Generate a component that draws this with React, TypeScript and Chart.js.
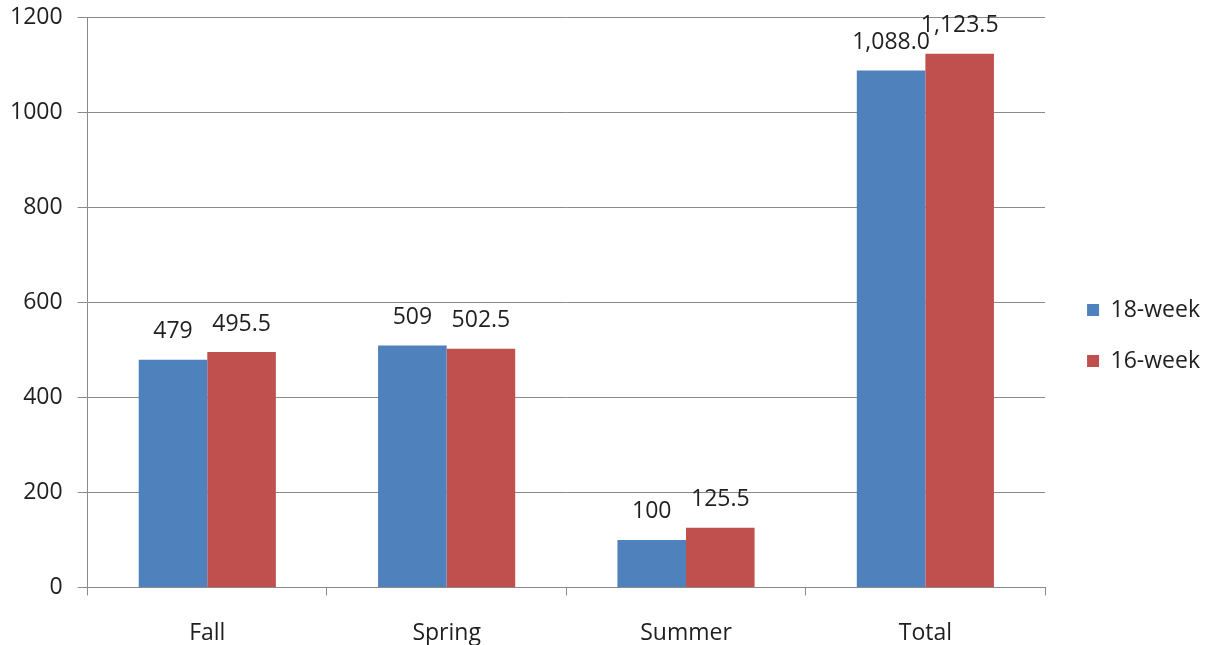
import React, { useEffect, useRef } from "react";
import { Chart, registerables } from "chart.js";

Chart.register(...registerables);

const categories = ["Fall", "Spring", "Summer", "Total"];
const week18 = [479, 509, 100, 1088.0];
const week16 = [495.5, 502.5, 125.5, 1123.5];
// Decimal places shown in the value labels per category (null = as-is)
const labelDecimals: (number | null)[] = [null, null, null, 1];
const yTicks = [0, 200, 400, 600, 800, 1000, 1200];

const FONT = "'Open Sans', 'Noto Sans', sans-serif";
const TEXT = "#1f1f1f";
const GRID = "#8a8a8a";
const FONT_SIZE = 23;

function formatValue(v: number, idx: number): string {
  const d = labelDecimals[idx];
  if (d == null) return String(v);
  return v.toLocaleString("en-US", { minimumFractionDigits: d, maximumFractionDigits: d });
}

const valueLabels = {
  id: "valueLabels",
  afterDatasetsDraw(chart: any) {
    const ctx = chart.ctx;
    ctx.save();
    ctx.font = `${FONT_SIZE}px ${FONT}`;
    ctx.fillStyle = TEXT;
    ctx.textAlign = "center";
    ctx.textBaseline = "middle";
    chart.data.datasets.forEach((ds: any, di: number) => {
      const meta = chart.getDatasetMeta(di);
      meta.data.forEach((el: any, i: number) => {
        ctx.fillText(formatValue(ds.data[i], i), el.x, el.y - 28);
      });
    });
    ctx.restore();
  },
};

export default function App() {
  const ref = useRef<HTMLCanvasElement>(null);
  useEffect(() => {
    document.body.style.margin = "0";
    const chart = new Chart(ref.current!, {
      type: "bar",
      data: {
        labels: categories,
        datasets: [
          { label: "18-week", data: week18, backgroundColor: "#4F81BD" },
          { label: "16-week", data: week16, backgroundColor: "#C0504D" },
        ],
      },
      options: {
        animation: false,
        responsive: false,
        layout: { padding: { top: 0, left: -5, right: 4, bottom: -26 } },
        datasets: {
          bar: { categoryPercentage: 0.573, barPercentage: 1.0 },
        },
        scales: {
          x: {
            grid: {
              display: true,
              drawOnChartArea: false,
              drawTicks: true,
              tickLength: 8,
              color: GRID,
              offset: true,
            },
            border: { color: GRID },
            ticks: { color: TEXT, font: { family: FONT, size: FONT_SIZE }, padding: 24 },
          },
          y: {
            min: 0,
            max: 1200,
            afterBuildTicks(axis: any) {
              axis.ticks = yTicks.map((v) => ({ value: v }));
            },
            grid: { color: GRID, tickLength: 10 },
            border: { color: GRID },
            ticks: {
              color: TEXT,
              font: { family: FONT, size: FONT_SIZE, lineHeight: 0.2 },
              padding: 15,
              callback: (v: any) => String(v),
            },
          },
          // empty spacer between the plot and the legend
          gap: {
            type: "linear",
            position: "right",
            display: true,
            grid: { display: false },
            border: { display: false },
            ticks: { display: false },
            afterFit(scale: any) {
              scale.width = 14;
            },
          },
        },
        plugins: {
          legend: {
            position: "right",
            labels: {
              color: TEXT,
              font: { family: FONT, size: FONT_SIZE },
              boxWidth: 12,
              boxHeight: 12,
              padding: 28,
            },
          },
          tooltip: { enabled: false },
        },
      },
      plugins: [valueLabels],
    });
    return () => chart.destroy();
  }, []);
  return (
    <div style={{ width: 1214, height: 645 }}>
      <canvas ref={ref} width={1214} height={645} />
    </div>
  );
}
